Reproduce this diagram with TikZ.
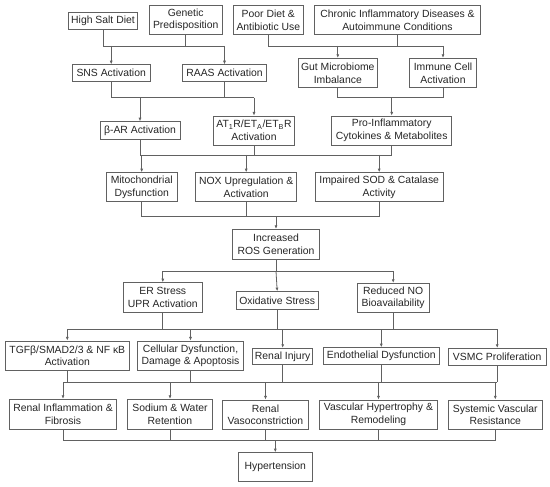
\documentclass[tikz,border=0pt]{standalone}
\usepackage{fontspec}
\setmainfont{Liberation Sans}
\usetikzlibrary{arrows.meta}
\tikzset{
  box/.style={draw=black!62, line width=0.8pt, fill=white, inner sep=0pt, align=center,
    text=black!85, font=\fontsize{10.4}{12.6}\selectfont},
  conn/.style={draw=black!62, line width=0.8pt},
  arr/.style={conn, -{Latex[length=3.6pt,width=3pt]}}
}
\begin{document}
\begin{tikzpicture}[x=1pt,y=-1pt]
\path[use as bounding box, fill=white] (0,0) rectangle (550,487);
% row 1
\node[box, minimum width=69.4, minimum height=17] (salt) at (103,20.8) {High Salt Diet};
\node[box, minimum width=73.3, minimum height=28.6] (gen) at (185.7,20) {Genetic\\Predisposition};
\node[box, minimum width=70, minimum height=28.6] (poor) at (268.3,20) {Poor Diet \&\\Antibiotic Use};
\node[box, minimum width=166.4, minimum height=28.6] (chronic) at (397.5,20) {Chronic Inflammatory Diseases \&\\Autoimmune Conditions};
% row 2
\node[box, minimum width=77.7, minimum height=16.5] (sns) at (111.2,73) {SNS Activation};
\node[box, minimum width=84.4, minimum height=16.5] (raas) at (224.5,73) {RAAS Activation};
\node[box, minimum width=79, minimum height=29.4] (gut) at (337.8,73) {Gut Microbiome\\Imbalance};
\node[box, minimum width=67.4, minimum height=29.4] (immune) at (443,73) {Immune Cell\\Activation};
% row 3
\node[box, minimum width=80, minimum height=17.6] (bar) at (140,130.5) {β-AR Activation};
\node[box, minimum width=80.4, minimum height=29] (at1) at (254,130.5) {AT\textsubscript{1}R/ET\textsubscript{A}/ET\textsubscript{B}R\\Activation};
\node[box, minimum width=120, minimum height=29] (pro) at (391.7,130.5) {Pro-Inflammatory\\Cytokines \& Metabolites};
% row 4
\node[box, minimum width=71.3, minimum height=29] (mito) at (141.7,187.2) {Mitochondrial\\Dysfunction};
\node[box, minimum width=101, minimum height=29] (nox) at (246.2,187.2) {NOX Upregulation \&\\Activation};
\node[box, minimum width=128.3, minimum height=29] (sod) at (379.2,187.2) {Impaired SOD \& Catalase\\Activity};
% ROS
\node[box, minimum width=86.6, minimum height=29.7] (ros) at (276,244.2) {Increased\\ROS Generation};
% row 5
\node[box, minimum width=79, minimum height=29.6] (er) at (162.8,297.5) {ER Stress\\UPR Activation};
\node[box, minimum width=82.3, minimum height=17.3] (ox) at (277.2,300.3) {Oxidative Stress};
\node[box, minimum width=71.7, minimum height=29] (rno) at (393.2,297.8) {Reduced NO\\Bioavailability};
% row 6
\node[box, minimum width=123.3, minimum height=29.7] (tgf) at (67.3,355.8) {TGFβ/SMAD2/3 \& NF κB\\Activation};
\node[box, minimum width=105.6, minimum height=29.7] (cell) at (190.5,355.8) {Cellular Dysfunction,\\Damage \& Apoptosis};
\node[box, minimum width=60, minimum height=16.5] (ri) at (282.7,356.5) {Renal Injury};
\node[box, minimum width=116, minimum height=16.6] (endo) at (381.3,356) {Endothelial Dysfunction};
\node[box, minimum width=97.7, minimum height=16.7] (vsmc) at (497.2,356.7) {VSMC Proliferation};
% row 7
\node[box, minimum width=107.4, minimum height=30] (rif) at (63,414.3) {Renal Inflammation \&\\Fibrosis};
\node[box, minimum width=84.6, minimum height=30] (sw) at (170,414.3) {Sodium \& Water\\Retention};
\node[box, minimum width=85.6, minimum height=29.3] (rv) at (265.5,414.6) {Renal\\Vasoconstriction};
\node[box, minimum width=118.4, minimum height=29.3] (vh) at (378.5,414.6) {Vascular Hypertrophy \&\\Remodeling};
\node[box, minimum width=94, minimum height=29.3] (svr) at (495.3,414.6) {Systemic Vascular\\Resistance};
% final
\node[box, minimum width=74, minimum height=29] (hyp) at (275.3,467.2) {Hypertension};
% bus levels
\coordinate (b1) at (0,46);
\coordinate (b2) at (0,97.7);
\coordinate (b3) at (0,155);
\coordinate (b4) at (0,216.7);
\coordinate (b5) at (0,271);
\coordinate (b6) at (0,329.3);
\coordinate (b7) at (0,382.3);
\coordinate (b8) at (0,440.7);
% bus 1 left
\draw[conn] (salt.south) -- (salt.south |- b1) -- (raas.north |- b1);
\draw[conn] (gen.south) -- (gen.south |- b1);
\draw[arr] (sns.north |- b1) -- (sns.north);
\draw[arr] (raas.north |- b1) -- (raas.north);
% bus 1 right
\draw[conn] (poor.south) -- (poor.south |- b1) -- (immune.north |- b1);
\draw[conn] (chronic.south) -- (chronic.south |- b1);
\draw[arr] (gut.north |- b1) -- (gut.north);
\draw[arr] (immune.north |- b1) -- (immune.north);
% bus 2 left
\draw[conn] (sns.south) -- (sns.south |- b2) -- (at1.north |- b2);
\draw[conn] (raas.south) -- (raas.south |- b2);
\draw[arr] (bar.north |- b2) -- (bar.north);
\draw[arr] (at1.north |- b2) -- (at1.north);
% bus 2 right
\draw[conn] (gut.south) -- (gut.south |- b2) -- (immune.south |- b2) -- (immune.south);
\draw[arr] (pro.north |- b2) -- (pro.north);
% bus 3
\draw[conn] (bar.south) -- (bar.south |- b3) -- (pro.south |- b3) -- (pro.south);
\draw[conn] (at1.south) -- (at1.south |- b3);
\draw[arr] (mito.north |- b3) -- (mito.north);
\draw[arr] (nox.north |- b3) -- (nox.north);
\draw[arr] (sod.north |- b3) -- (sod.north);
% bus 4
\draw[conn] (mito.south) -- (mito.south |- b4) -- (sod.south |- b4) -- (sod.south);
\draw[conn] (nox.south) -- (nox.south |- b4);
\draw[arr] (ros.north |- b4) -- (ros.north);
% bus 5
\draw[conn] (ros.south) -- (ros.south |- b5);
\draw[conn] (er.north |- b5) -- (rno.north |- b5);
\draw[arr] (er.north |- b5) -- (er.north);
\draw[arr] (ros.south |- b5) -- (ox.north);
\draw[arr] (rno.north |- b5) -- (rno.north);
% bus 6
\draw[conn] (er.south) -- (er.south |- b6);
\draw[conn] (ox.south) -- (ox.south |- b6);
\draw[conn] (rno.south) -- (rno.south |- b6);
\draw[conn] (tgf.north |- b6) -- (vsmc.north |- b6);
\draw[arr] (tgf.north |- b6) -- (tgf.north);
\draw[arr] (cell.north |- b6) -- (cell.north);
\draw[arr] (ri.north |- b6) -- (ri.north);
\draw[arr] (endo.north |- b6) -- (endo.north);
\draw[arr] (vsmc.north |- b6) -- (vsmc.north);
% bus 7
\draw[conn] (tgf.south) -- (tgf.south |- b7);
\draw[conn] (cell.south) -- (cell.south |- b7);
\draw[conn] (ri.south) -- (ri.south |- b7);
\draw[conn] (endo.south) -- (endo.south |- b7);
\draw[conn] (vsmc.south) -- (vsmc.south |- b7);
\draw[conn] (rif.north |- b7) -- (vsmc.south |- b7);
\draw[arr] (rif.north |- b7) -- (rif.north);
\draw[arr] (sw.north |- b7) -- (sw.north);
\draw[arr] (rv.north |- b7) -- (rv.north);
\draw[arr] (vh.north |- b7) -- (vh.north);
\draw[arr] (svr.north |- b7) -- (svr.north);
% bus 8
\draw[conn] (rif.south) -- (rif.south |- b8) -- (svr.south |- b8) -- (svr.south);
\draw[conn] (sw.south) -- (sw.south |- b8);
\draw[conn] (rv.south) -- (rv.south |- b8);
\draw[conn] (vh.south) -- (vh.south |- b8);
\draw[arr] (hyp.north |- b8) -- (hyp.north);
\end{tikzpicture}
\end{document}
